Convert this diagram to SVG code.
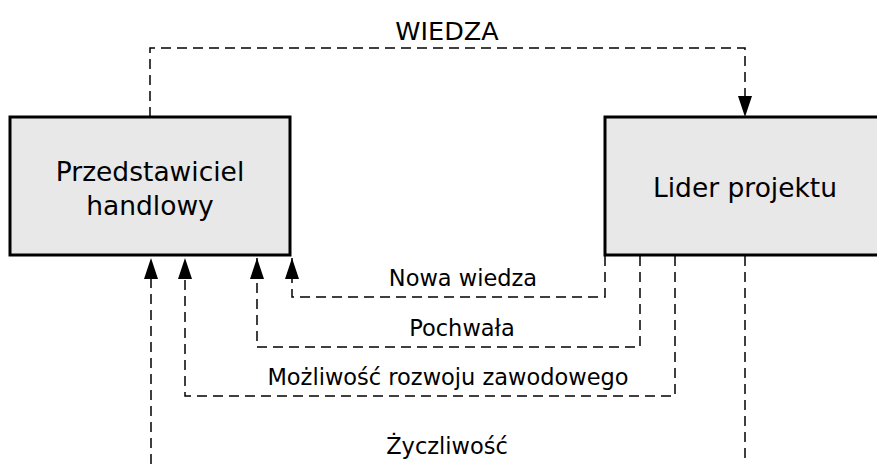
<svg xmlns="http://www.w3.org/2000/svg" width="877" height="464" viewBox="0 0 877 464">
  <defs>
    <marker id="arrow" viewBox="0 0 21 14" refX="21" refY="7" markerWidth="21" markerHeight="14" markerUnits="userSpaceOnUse" orient="auto">
      <path d="M0,0 L21,7 L0,14 Z" fill="#000"/>
    </marker>
    <style>
      .box { fill: #e8e8e8; stroke: #000; stroke-width: 3; }
      .flow { fill: none; stroke: #000; stroke-width: 1.5; stroke-dasharray: 10 6; }
      .label { font-family: "DejaVu Sans", "Liberation Sans", sans-serif; fill: #000; text-anchor: middle; }
      .big { font-size: 26.5px; }
      .small { font-size: 22.5px; }
    </style>
  </defs>

  <g id="connectors">
    <!-- WIEDZA: left box top to right box top -->
    <path class="flow" d="M150,117 V48 H745 V117" marker-end="url(#arrow)"/>
    <!-- Nowa wiedza -->
    <path class="flow" d="M605,256 V297 H292 V258" marker-end="url(#arrow)"/>
    <!-- Pochwała -->
    <path class="flow" d="M640,256 V347 H257 V258" marker-end="url(#arrow)"/>
    <!-- Możliwość rozwoju zawodowego -->
    <path class="flow" d="M675,256 V396 H185 V258" marker-end="url(#arrow)"/>
    <!-- Życzliwość: open-ended verticals -->
    <path class="flow" d="M745,256 V464"/>
    <path class="flow" d="M151,464 V258" marker-end="url(#arrow)"/>
  </g>

  <g id="node-przedstawiciel">
    <rect class="box" x="10" y="117" width="280" height="138"/>
    <text class="label big" x="150" y="181">Przedstawiciel</text>
    <text class="label big" x="150" y="215">handlowy</text>
  </g>

  <g id="node-lider">
    <rect class="box" x="605" y="117" width="290" height="138"/>
    <text class="label big" x="745" y="197">Lider projektu</text>
  </g>

  <g id="labels">
    <text class="label" x="447" y="40" style="font-size:25.5px">WIEDZA</text>
    <text class="label small" x="463" y="286">Nowa wiedza</text>
    <text class="label small" x="462" y="336">Pochwała</text>
    <text class="label small" x="448" y="385">Możliwość rozwoju zawodowego</text>
    <text class="label small" x="447" y="454">Życzliwość</text>
  </g>
</svg>
